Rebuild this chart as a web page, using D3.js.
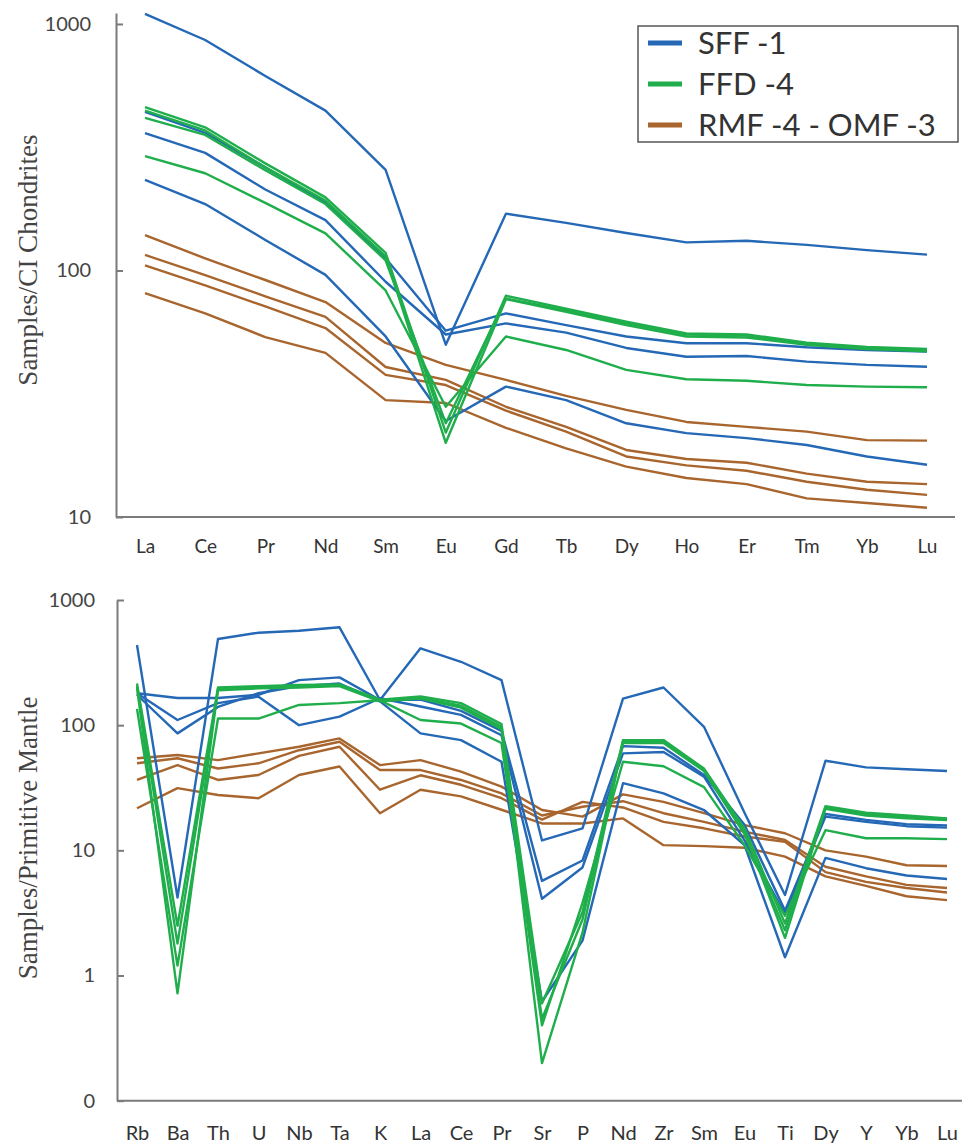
<!DOCTYPE html>
<html><head><meta charset="utf-8">
<script src="https://cdn.jsdelivr.net/npm/d3@7"></script>
<style>body{margin:0;background:#fff}svg{display:block}</style>
</head><body>
<svg id="chart" width="969" height="1145"></svg>
<script>
// ---------- DATA ----------
const reeCategories = ["La","Ce","Pr","Nd","Sm","Eu","Gd","Tb","Dy","Ho","Er","Tm","Yb","Lu"];
const reeTicks = [10, 100, 1000];
const reeTickLabels = ["10", "100", "1000"];
const reeSFF = [
  [1098, 861, 615, 445, 256, 50, 170, 156, 142, 130, 132, 127, 121, 116],
  [361, 300, 213, 160, 90, 55, 61, 56, 48.5, 44.7, 45, 42.7, 41.4, 40.7],
  [440, 362, 262, 188, 112, 57, 67, 60, 54, 50.7, 50.7, 48.8, 47.6, 46.9],
  [233, 186, 133, 96, 54, 24.5, 33.8, 29.8, 24, 21.9, 20.9, 19.6, 17.6, 16.3]
];
const reeFFD = [
  [460, 381, 272, 198, 118, 22, 79, 70, 62, 55.5, 55, 51, 49, 48],
  [445, 370, 262, 192, 114, 20, 76.5, 68, 60, 54, 53.5, 50, 48, 47],
  [416, 355, 255, 186, 110, 24, 77, 69, 61, 55, 54.5, 50.5, 48.5, 47.5],
  [291, 248, 188, 141.5, 83, 28, 54, 47.6, 39.5, 36.2, 35.7, 34.3, 33.8, 33.6]
];
const reeRMF = [
  [139, 112, 91.5, 74.5, 50.8, 41.4, 36, 31, 27.2, 24.3, 23.2, 22.2, 20.5, 20.4],
  [115.6, 95.7, 78.6, 64.8, 40.6, 36, 28, 23.2, 18.7, 17.2, 16.6, 15.0, 13.9, 13.6],
  [105, 87, 71.5, 58.4, 37.7, 34.3, 27, 22.2, 17.6, 16.2, 15.4, 13.9, 12.9, 12.3],
  [81, 67, 53.7, 46.3, 29.8, 29.0, 23, 19, 16, 14.4, 13.6, 11.9, 11.4, 10.9]
];

const spiderCategories = ["Rb","Ba","Th","U","Nb","Ta","K","La","Ce","Pr","Sr","P","Nd","Zr","Sm","Eu","Ti","Dy","Y","Yb","Lu"];
const spiderTicks = [0.1, 1, 10, 100, 1000];
const spiderTickLabels = ["0", "1", "10", "100", "1000"];
const spiderSFF = [
  [437, 4.2, 488, 548, 568, 605, 159, 411, 321, 229, 12, 15, 163, 200, 97, 20, 4.4, 52, 46, 44.4, 43],
  [180, 165, 165, 175, 229, 241, 159, 160, 130, 90, 5.7, 8.3, 68, 66, 40, 16, 3.3, 19.5, 17.5, 16.2, 15.8],
  [180, 110, 150, 169, 100, 117, 164, 141, 121, 83, 4.1, 7.3, 59.5, 61, 38.8, 12, 3.1, 18.6, 16.9, 15.6, 15.2],
  [175, 86, 140, 180, 205, 215, 155, 86, 76, 51, 0.62, 1.9, 34.4, 28.5, 21, 11, 1.4, 8.7, 7.2, 6.3, 5.9]
];
const spiderFFD = [
  [215, 2.5, 200, 205, 210, 212, 160, 170, 150, 102, 0.6, 3.2, 76, 76, 45, 15, 2.6, 22.5, 20, 19, 18],
  [205, 1.8, 190, 197, 200, 205, 155, 163, 138, 93, 0.45, 2.8, 72, 72, 43, 13.5, 2.3, 21.5, 19, 18, 17.5],
  [135, 1.2, 113, 113, 145, 150, 158, 110, 103, 72, 0.4, 3.8, 51, 47, 32, 11, 3.0, 14.5, 12.5, 12.5, 12.3],
  [200, 0.72, 195, 200, 205, 208, 157, 166, 143, 97, 0.2, 2.2, 74, 74, 44, 14, 2.0, 22, 19.5, 18.5, 17.8]
];
const spiderRMF = [
  [54.4, 57.8, 52.6, 59.5, 67.2, 78.4, 48, 52.6, 42.5, 32.3, 21, 18.6, 28, 24.4, 19.8, 15.9, 13.7, 10, 8.9, 7.6, 7.5],
  [49.6, 54.4, 45.1, 49.6, 63.1, 73.7, 43.8, 43.8, 36.5, 28.5, 19, 22.3, 24.7, 19.8, 16.9, 14.1, 12.1, 7.4, 6.2, 5.3, 5.0],
  [36.5, 48, 36.5, 40, 56.9, 67.2, 30.5, 39.8, 33.4, 26.1, 17.6, 24.4, 22, 16.9, 15, 12.9, 11.7, 6.7, 5.6, 5.0, 4.6],
  [21.7, 31.4, 27.7, 26.1, 40, 46.8, 19.8, 30.5, 27, 21.1, 16.4, 16.4, 18, 11, 10.8, 10.5, 8.9, 6.2, 5.2, 4.3, 4.0]
];

const legendLabels = ["SFF -1", "FFD -4", "RMF -4 - OMF -3"];
const groupColors = ["#2468b6", "#1fae4b", "#a8652d"];

// ---------- DRAW ----------
const svg = d3.select("#chart");
const axisColor = "#7b7b7b";

function panel(cfg) {
  const x = d3.scalePoint().domain(cfg.categories).range(cfg.xRange);
  const y = d3.scaleLog().domain(cfg.yDomain).range(cfg.yRange);
  const g = svg.append("g");
  const y0 = y(cfg.yDomain[0]);

  g.append("line")
    .attr("x1", cfg.axisX[0]).attr("x2", cfg.axisX[1])
    .attr("y1", y0).attr("y2", y0)
    .attr("stroke", axisColor).attr("stroke-width", 2);

  const xa = g.append("g").attr("transform", `translate(0,${y0})`)
    .call(d3.axisBottom(x).tickSize(0).tickPadding(cfg.xPad));
  xa.select(".domain").remove();
  xa.selectAll("text").attr("font-family", "Lato, sans-serif")
    .attr("font-size", cfg.xFont).attr("fill", "#333");

  const ya = g.append("g").attr("transform", `translate(${cfg.axisX[0]},0)`)
    .call(d3.axisLeft(y).tickValues(cfg.ticks)
      .tickFormat((d, i) => cfg.tickLabels[i])
      .tickSize(-7).tickSizeOuter(0).tickPadding(cfg.yPad));
  ya.select(".domain").attr("stroke", axisColor).attr("stroke-width", 2);
  ya.selectAll(".tick line").attr("stroke", axisColor).attr("stroke-width", 2);
  ya.selectAll("text").attr("font-family", "Lato, sans-serif")
    .attr("font-size", 20).attr("fill", "#444");

  g.append("text")
    .attr("transform", `translate(37,${cfg.titleY}) rotate(-90)`)
    .attr("text-anchor", "middle")
    .attr("font-family", "'Liberation Serif', 'Times New Roman', serif")
    .attr("font-size", 27).attr("fill", "#444")
    .text(cfg.title);

  const line = d3.line().x((d, i) => x(cfg.categories[i])).y(d => y(d));
  const order = [2, 0, 1];
  order.forEach(gi => {
    cfg.groups[gi].forEach(series => {
      g.append("path").datum(series)
        .attr("d", line)
        .attr("fill", "none")
        .attr("stroke", groupColors[gi])
        .attr("stroke-width", 2.4)
        .attr("stroke-linejoin", "round");
    });
  });
  return g;
}

panel({
  categories: reeCategories, xRange: [145, 927], axisX: [116, 955],
  yDomain: [10, 1108], yRange: [517, 13],
  ticks: reeTicks, tickLabels: reeTickLabels,
  xPad: 23, xFont: 19, yPad: 25,
  title: "Samples/CI Chondrites", titleY: 260,
  groups: [reeSFF, reeFFD, reeRMF]
});

panel({
  categories: spiderCategories, xRange: [137, 947], axisX: [117, 962],
  yDomain: [0.1, 1000], yRange: [1100.7, 600],
  ticks: spiderTicks, tickLabels: spiderTickLabels,
  xPad: 25, xFont: 20, yPad: 22,
  title: "Samples/Primitive Mantle", titleY: 838,
  groups: [spiderSFF, spiderFFD, spiderRMF]
});

// legend
const lg = svg.append("g");
lg.append("rect").attr("x", 638).attr("y", 26).attr("width", 320).attr("height", 116)
  .attr("fill", "#fff").attr("stroke", "#555").attr("stroke-width", 1.5);
legendLabels.forEach((lab, i) => {
  const cy = 43 + i * 41;
  lg.append("line").attr("x1", 648).attr("x2", 682).attr("y1", cy).attr("y2", cy)
    .attr("stroke", groupColors[i]).attr("stroke-width", 5);
  lg.append("text").attr("x", 698).attr("y", cy + 11)
    .attr("font-family", "Lato, sans-serif").attr("font-size", 31).attr("fill", "#333")
    .text(lab);
});
</script>
</body></html>
